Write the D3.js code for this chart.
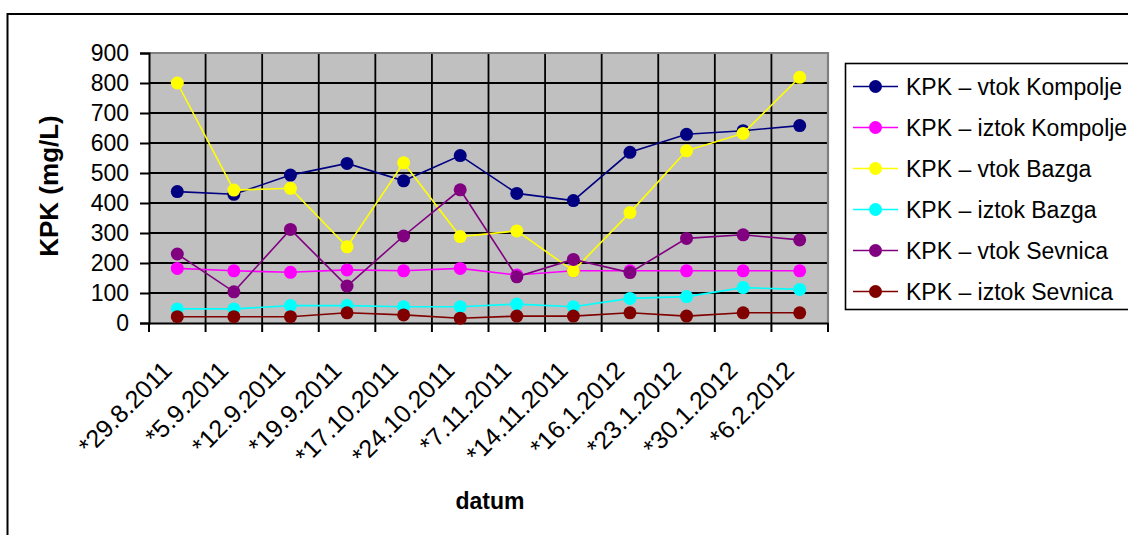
<!DOCTYPE html>
<html>
<head>
<meta charset="utf-8">
<script src="https://cdn.jsdelivr.net/npm/d3@7"></script>
<style>
  html, body { margin: 0; padding: 0; background: #fff; }
  svg { display: block; font-family: "Liberation Sans", Arial, sans-serif; }
</style>
</head>
<body>
<svg id="chart" width="1128" height="535"></svg>
<script>
// Sampling dates (x categories)
const dates = ["*29.8.2011", "*5.9.2011", "*12.9.2011", "*19.9.2011", "*17.10.2011", "*24.10.2011",
               "*7.11.2011", "*14.11.2011", "*16.1.2012", "*23.1.2012", "*30.1.2012", "*6.2.2012"];

// KPK values in mg/L for each measuring point
const vtokKompolje  = [438, 429, 493, 532, 474, 558, 432, 408, 569, 629, 641, 658];
const iztokKompolje = [182, 174, 169, 177, 174, 182, 160, 174, 174, 174, 174, 174];
const vtokBazga     = [800, 443, 449, 254, 534, 288, 307, 174, 368, 574, 632, 819];
const iztokBazga    = [47, 47, 58, 58, 54, 54, 63, 54, 82, 88, 118, 112];
const vtokSevnica   = [230, 104, 312, 123, 290, 444, 154, 212, 168, 282, 294, 277];
const iztokSevnica  = [21, 21, 21, 34, 27, 16, 23, 23, 34, 23, 34, 34];

const seriesNames = ["KPK – vtok Kompolje", "KPK – iztok Kompolje", "KPK – vtok Bazga",
                     "KPK – iztok Bazga", "KPK – vtok Sevnica", "KPK – iztok Sevnica"];
const seriesColors = ["#000080", "#FF00FF", "#FFFF00", "#00FFFF", "#800080", "#800000"];
const seriesValues = [vtokKompolje, iztokKompolje, vtokBazga, iztokBazga, vtokSevnica, iztokSevnica];

const yTicks = [0, 100, 200, 300, 400, 500, 600, 700, 800, 900];

const series = seriesNames.map((name, i) => ({ name, color: seriesColors[i], values: seriesValues[i] }));

const svg = d3.select("#chart");
const FONT = 23;

// chart frame
svg.append("rect").attr("x", 0).attr("y", 0).attr("width", 1128).attr("height", 535).attr("fill", "#fff");
svg.append("rect").attr("x", 7.5).attr("y", 14).attr("width", 1200).attr("height", 600)
  .attr("fill", "none").attr("stroke", "#000").attr("stroke-width", 2);

const plot = { left: 149, right: 828, top: 53, bottom: 323 };

const x = d3.scaleBand().domain(dates).range([plot.left, plot.right]).padding(0);
const y = d3.scaleLinear().domain([0, 900]).range([plot.bottom, plot.top]);

// plot area background
svg.append("rect")
  .attr("x", plot.left).attr("y", plot.top)
  .attr("width", plot.right - plot.left).attr("height", plot.bottom - plot.top)
  .attr("fill", "#C0C0C0");

// category boundaries
const boundaries = dates.map(d => x(d)).concat([plot.right]);

// grid
const grid = svg.append("g").attr("stroke", "#000").attr("stroke-width", 1.8);
grid.selectAll("line.h").data(yTicks.filter(t => t > 0 && t < 900)).join("line")
  .attr("x1", plot.left).attr("x2", plot.right)
  .attr("y1", d => y(d)).attr("y2", d => y(d));
grid.selectAll("line.v").data(boundaries.slice(1, -1)).join("line")
  .attr("x1", d => d).attr("x2", d => d)
  .attr("y1", plot.top).attr("y2", plot.bottom);

// plot border (top and right)
svg.append("path")
  .attr("d", `M${plot.left},${plot.top}H${plot.right}V${plot.bottom}`)
  .attr("fill", "none").attr("stroke", "#808080").attr("stroke-width", 2.2);

// y axis
const yAxis = svg.append("g")
  .attr("transform", `translate(${plot.left},0)`)
  .call(d3.axisLeft(y).tickValues(yTicks).tickSize(9).tickPadding(11));
yAxis.select(".domain").attr("stroke", "#000").attr("stroke-width", 2);
yAxis.selectAll(".tick line").attr("stroke", "#000").attr("stroke-width", 2);
yAxis.selectAll(".tick text").attr("font-size", FONT).attr("fill", "#000")
  .attr("font-family", "'Liberation Sans', Arial, sans-serif");

// x axis
const xAxis = svg.append("g")
  .attr("transform", `translate(0,${plot.bottom})`)
  .call(d3.axisBottom(x).tickSize(0).tickFormat(""));
xAxis.select(".domain").attr("stroke", "#000").attr("stroke-width", 2);
xAxis.selectAll(".xt").data(boundaries).join("line")
  .attr("class", "xt")
  .attr("x1", d => d).attr("x2", d => d).attr("y1", 0).attr("y2", 9)
  .attr("stroke", "#000").attr("stroke-width", 2);

svg.append("g").selectAll("text").data(dates).join("text")
  .attr("transform", d => `translate(${x(d) + x.bandwidth() / 2 - 4},372) rotate(-45)`)
  .attr("text-anchor", "end")
  .attr("font-size", 25)
  .attr("fill", "#000")
  .text(d => d);

// axis titles
svg.append("text")
  .attr("transform", "translate(58,186) rotate(-90)")
  .attr("text-anchor", "middle")
  .attr("font-size", 26).attr("font-weight", "bold")
  .text("KPK (mg/L)");

svg.append("text")
  .attr("x", 490).attr("y", 509)
  .attr("text-anchor", "middle")
  .attr("font-size", FONT).attr("font-weight", "bold")
  .text("datum");

// series
const line = d3.line()
  .x((d, i) => x(dates[i]) + x.bandwidth() / 2)
  .y(d => y(d));

const sg = svg.append("g").selectAll("g").data(series).join("g");
sg.append("path")
  .attr("d", d => line(d.values))
  .attr("fill", "none")
  .attr("stroke", d => d.color)
  .attr("stroke-width", 1.6);
sg.each(function (s) {
  d3.select(this).selectAll("circle").data(s.values).join("circle")
    .attr("cx", (d, i) => x(dates[i]) + x.bandwidth() / 2)
    .attr("cy", d => y(d))
    .attr("r", 6.5)
    .attr("fill", s.color);
});

// legend
const legend = svg.append("g");
legend.append("rect")
  .attr("x", 845.5).attr("y", 63.5).attr("width", 400).attr("height", 246)
  .attr("fill", "#fff").attr("stroke", "#000").attr("stroke-width", 1.6);
const items = legend.selectAll("g.item").data(series).join("g")
  .attr("class", "item")
  .attr("transform", (d, i) => `translate(0,${86.5 + i * 41})`);
items.append("line")
  .attr("x1", 853).attr("x2", 898).attr("y1", 0).attr("y2", 0)
  .attr("stroke", d => d.color).attr("stroke-width", 1.6);
items.append("circle")
  .attr("cx", 875.5).attr("cy", 0).attr("r", 6.5).attr("fill", d => d.color);
items.append("text")
  .attr("x", 906).attr("y", 0).attr("dy", "0.35em")
  .attr("font-size", FONT).attr("fill", "#000")
  .text(d => d.name);
</script>
</body>
</html>
